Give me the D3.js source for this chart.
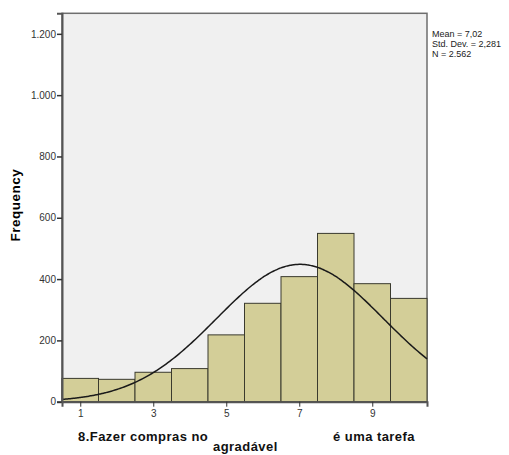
<!DOCTYPE html>
<html>
<head>
<meta charset="utf-8">
<script src="https://cdn.jsdelivr.net/npm/d3@7"></script>
<style>
  body { margin: 0; background: #fff; }
  text { font-family: Arial, "Liberation Sans", sans-serif; }
</style>
</head>
<body>
<svg id="chart" width="509" height="455"></svg>
<script>
// bins of the histogram (value 1..10) and their counts
const bins = [1, 2, 3, 4, 5, 6, 7, 8, 9, 10]
const counts = [76, 73, 96, 108, 218, 321, 408, 549, 385, 337]
const yTicks = [0, 200, 400, 600, 800, 1000, 1200]
const xTicks = [1, 3, 5, 7, 9]
const stats = { mean: 7.02, sd: 2.281, n: 2562 }
const statLines = ["Mean = 7,02", "Std. Dev. = 2,281", "N = 2.562"]

const svg = d3.select('#chart')
const fmt = d3.formatLocale({ decimal: ",", thousands: ".", grouping: [3], currency: ["", ""] }).format(",d")

let x = d3.scaleLinear().domain([0.5, 10.5]).range([62, 427])
let y = d3.scaleLinear().domain([0, 1267]).range([401.7, 13.3])

// plot background and frame
svg.append('rect')
    .attr('x', x(0.5)).attr('y', y(1267))
    .attr('width', x(10.5) - x(0.5)).attr('height', y(0) - y(1267))
    .style('fill', '#f0f0f0')
    .style('stroke', '#6e6e6e')
    .style('stroke-width', 1.5)

// bars
svg.append('g').selectAll('rect')
    .data(bins)
    .join('rect')
    .attr('x', d => x(d - 0.5))
    .attr('y', (d, i) => y(counts[i]))
    .attr('width', x(1.5) - x(0.5))
    .attr('height', (d, i) => y(0) - y(counts[i]))
    .style('fill', '#d3ce98')
    .style('stroke', '#3a3a2e')
    .style('stroke-width', 1)

// normal curve
let pts = d3.range(0.5, 10.51, 0.05).map(v => {
    let z = (v - stats.mean) / stats.sd
    return [v, stats.n / (stats.sd * Math.sqrt(2 * Math.PI)) * Math.exp(-0.5 * z * z)]
})
svg.append('path')
    .datum(pts)
    .attr('d', d3.line().x(d => x(d[0])).y(d => y(d[1])).curve(d3.curveBasis))
    .style('fill', 'none')
    .style('stroke', '#1a1a1a')
    .style('stroke-width', 1.5)

// y axis
let yAxis = svg.append('g')
    .attr('transform', `translate(${x(0.5)},0)`)
    .call(d3.axisLeft(y).tickValues(yTicks).tickSize(5).tickFormat(fmt))
yAxis.select('.domain').style('stroke', '#555').style('stroke-width', 2)
yAxis.selectAll('.tick line').style('stroke', '#333').style('stroke-width', 1.5)
yAxis.selectAll('.tick text').style('font-size', '10px').style('fill', '#333').attr('x', -6)

// x axis
let xAxis = svg.append('g')
    .attr('transform', `translate(0,${y(0)})`)
    .call(d3.axisBottom(x).tickValues(xTicks).tickSize(5))
xAxis.select('.domain').style('stroke', '#555').style('stroke-width', 2)
xAxis.selectAll('.tick line').style('stroke', '#333')
xAxis.selectAll('.tick text').style('font-size', '10px').style('fill', '#333').attr('y', 8)

// axis titles
svg.append('text')
    .attr('transform', 'translate(20,205) rotate(-90)')
    .style('text-anchor', 'middle')
    .style('font-size', '13.5px')
    .style('letter-spacing', '0.5px')
    .style('font-weight', 'bold')
    .text('Frequency')

let title = svg.append('g')
    .style('font-size', '13px')
    .style('letter-spacing', '0.45px')
    .style('font-weight', 'bold')
    .style('fill', '#111')
title.append('text').attr('x', 78).attr('y', 441).text('8.Fazer compras no')
title.append('text').attr('x', 213).attr('y', 451).text('agradável')
title.append('text').attr('x', 333).attr('y', 441).text('é uma tarefa')

// stats box
svg.append('g').selectAll('text')
    .data(statLines)
    .join('text')
    .attr('x', 432)
    .attr('y', (d, i) => 37 + i * 10)
    .style('font-size', '9px')
    .style('fill', '#222')
    .text(d => d)
</script>
</body>
</html>
